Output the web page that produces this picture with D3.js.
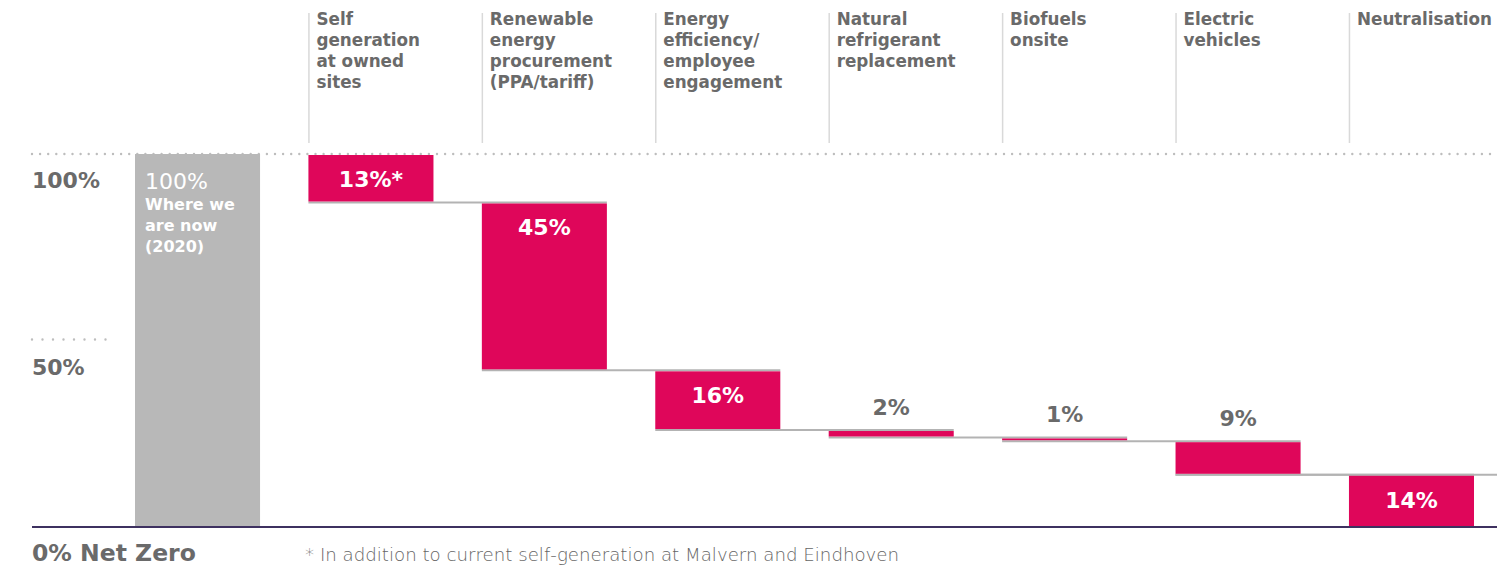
<!DOCTYPE html>
<html>
<head>
<meta charset="utf-8">
<script src="https://cdn.jsdelivr.net/npm/d3@7"></script>
<style>
  body { margin: 0; background: #fff; }
  svg { display: block; font-family: "DejaVu Sans", sans-serif; }
</style>
</head>
<body>
<svg id="chart"></svg>
<script>
// steps of the waterfall, first one is the starting point
const steps = ['now', 'self', 'renew', 'eff', 'refrig', 'bio', 'ev', 'neutral'];
const stepTitles = [
  [],
  ['Self', 'generation', 'at owned', 'sites'],
  ['Renewable', 'energy', 'procurement', '(PPA/tariff)'],
  ['Energy', 'efficiency/', 'employee', 'engagement'],
  ['Natural', 'refrigerant', 'replacement'],
  ['Biofuels', 'onsite'],
  ['Electric', 'vehicles'],
  ['Neutralisation']
];
const reductions = [100, 13, 45, 16, 2, 1, 9, 14];
const valueLabels = ['100%', '13%*', '45%', '16%', '2%', '1%', '9%', '14%'];
const startNote = ['Where we', 'are now', '(2020)'];
const yTicks = [100, 50];
const yTickLabels = ['100%', '50%'];
const footnote = '* In addition to current self-generation at Malvern and Eindhoven';

const W = 1511, H = 567;
const pink = '#df065a', grey = '#6a6a6a', barGrey = '#b8b8b8';

const svg = d3.select('#chart').attr('width', W).attr('height', H);

const x = d3.scaleBand().domain(steps).range([135, 1474]).paddingInner(0.279).paddingOuter(0);
const y = d3.scaleLinear().domain([0, 100]).range([527, 154]);

// running totals: top and bottom of each bar
let level = 100;
const bars = steps.map((s, i) => {
  if (i === 0) return { key: s, top: 100, bottom: 0, v: reductions[i], label: valueLabels[i] };
  const b = { key: s, top: level, bottom: level - reductions[i], v: reductions[i], label: valueLabels[i] };
  level -= reductions[i];
  return b;
});

// dotted guide lines
svg.append('line')
  .attr('x1', 32).attr('x2', 1497).attr('y1', y(100)).attr('y2', y(100))
  .attr('stroke', '#bdbdbd').attr('stroke-width', 2.4)
  .attr('stroke-linecap', 'round').attr('stroke-dasharray', '0 8.1');
svg.append('line')
  .attr('x1', 32).attr('x2', 110).attr('y1', y(50) - 1).attr('y2', y(50) - 1)
  .attr('stroke', '#bdbdbd').attr('stroke-width', 2.4)
  .attr('stroke-linecap', 'round').attr('stroke-dasharray', '0 10.5');

// header separators + titles
const heads = svg.selectAll('.head').data(steps.slice(1)).join('g')
  .attr('class', 'head')
  .attr('transform', d => `translate(${x(d)},0)`);
heads.append('line')
  .attr('x1', 0.5).attr('x2', 0.5).attr('y1', 13).attr('y2', 143)
  .attr('stroke', '#d9d9d9').attr('stroke-width', 1.5);
heads.append('text')
  .attr('x', 8).attr('y', 25)
  .attr('fill', grey).attr('font-size', 16.8).attr('font-weight', 700)
  .selectAll('tspan').data(d => stepTitles[steps.indexOf(d)]).join('tspan')
  .attr('x', 8).attr('dy', (d, i) => i ? 21 : 0)
  .text(d => d);

// connector lines: each level spans a bar and the next one
for (let i = 1; i < bars.length - 1; i++) {
  svg.append('line')
    .attr('x1', x(steps[i])).attr('x2', x(steps[i + 1]) + x.bandwidth())
    .attr('y1', y(bars[i].bottom)).attr('y2', y(bars[i].bottom))
    .attr('stroke', '#b3b3b3').attr('stroke-width', 2);
}
svg.append('line')
  .attr('x1', x(steps[6])).attr('x2', 1497)
  .attr('y1', y(bars[6].bottom)).attr('y2', y(bars[6].bottom))
  .attr('stroke', '#b3b3b3').attr('stroke-width', 2);

// bars
svg.selectAll('.bar').data(bars).join('rect')
  .attr('class', 'bar')
  .attr('x', d => x(d.key))
  .attr('y', d => y(d.top) + (d.key === 'now' ? 0 : 1))
  .attr('width', x.bandwidth())
  .attr('height', d => y(d.bottom) - y(d.top) - (d.key === 'now' ? 0 : 2))
  .attr('fill', d => d.key === 'now' ? barGrey : pink);

// baseline
svg.append('line')
  .attr('x1', 32).attr('x2', 1497).attr('y1', y(0)).attr('y2', y(0))
  .attr('stroke', '#3e3160').attr('stroke-width', 2);

// value labels
svg.selectAll('.val').data(bars.slice(1)).join('text')
  .attr('class', 'val')
  .attr('x', d => x(d.key) + x.bandwidth() / 2)
  .attr('y', d => d.v >= 10 ? y(d.top) + 33 : y(d.top) - 15)
  .attr('text-anchor', 'middle')
  .attr('font-size', 22).attr('font-weight', 700)
  .attr('fill', d => d.v >= 10 ? '#fff' : grey)
  .text(d => d.label);

// start bar text
const sx = x('now') + 10;
svg.append('text').attr('x', sx).attr('y', 189)
  .attr('font-size', 22).attr('font-weight', 400).attr('fill', '#fff')
  .text(valueLabels[0]);
svg.append('text').attr('x', sx).attr('y', 210)
  .attr('font-size', 16).attr('font-weight', 700).attr('fill', '#fff')
  .selectAll('tspan').data(startNote).join('tspan')
  .attr('x', sx).attr('dy', (d, i) => i ? 21 : 0)
  .text(d => d);

// y labels
svg.selectAll('.ylab').data(yTicks).join('text')
  .attr('class', 'ylab')
  .attr('x', 32).attr('y', d => y(d) + 34)
  .attr('font-size', 22).attr('font-weight', 700).attr('fill', grey)
  .text((d, i) => yTickLabels[i]);
svg.append('text').attr('x', 32).attr('y', 561)
  .attr('font-size', 23.5).attr('font-weight', 700).attr('fill', grey)
  .text('0% Net Zero');

svg.append('text').attr('x', 305).attr('y', 561)
  .attr('font-size', 18.2).attr('font-weight', 200).attr('fill', '#666')
  .text(footnote);
</script>
</body>
</html>
